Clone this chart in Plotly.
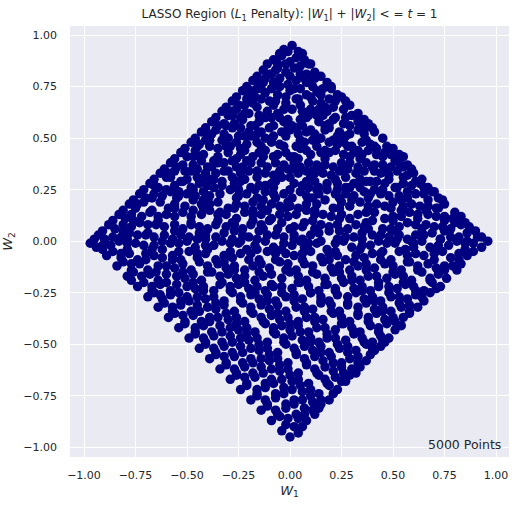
import plotly.graph_objects as go

samples_a = [
    (-0.03,0.93),(0.01,0.95),(0.04,0.92),(-0.05,0.91),
    (-0.08,0.88),(-0.04,0.90),(0.00,0.87),(0.03,0.89),(0.07,0.88),(0.09,0.86),(-0.06,0.86),
    (-0.13,0.83),(-0.10,0.81),(-0.06,0.84),(-0.02,0.82),(0.02,0.84),(0.05,0.81),(0.12,0.82),(0.00,0.80),
    (-0.18,0.78),(-0.15,0.76),(-0.12,0.79),(-0.08,0.77),(-0.01,0.76),(0.03,0.78),(0.08,0.77),(0.12,0.79),(0.18,0.77),
    (-0.23,0.73),(-0.20,0.71),(-0.16,0.74),(-0.12,0.72),(-0.09,0.74),(0.00,0.73),(0.05,0.74),(0.08,0.71),(0.13,0.73),(0.20,0.74),(0.23,0.71),
    (-0.28,0.68),(-0.25,0.66),(-0.21,0.69),(-0.18,0.67),(-0.14,0.69),(-0.07,0.68),(-0.02,0.67),(0.03,0.69),(0.11,0.68),(0.15,0.67),(0.19,0.69),(0.27,0.68),
    (-0.33,0.63),(-0.30,0.61),(-0.26,0.64),(-0.22,0.62),(-0.15,0.61),(-0.11,0.63),(-0.06,0.62),(-0.03,0.64),(0.06,0.63),(0.10,0.64),(0.13,0.61),(0.18,0.63),(0.26,0.64),(0.30,0.61),(0.33,0.62),
    (-0.38,0.58),(-0.35,0.56),(-0.27,0.57),(-0.23,0.59),(-0.19,0.56),(-0.15,0.58),(-0.12,0.60),(-0.03,0.58),(0.01,0.56),(0.05,0.59),(0.14,0.58),(0.17,0.56),(0.21,0.59),(0.26,0.57),(0.34,0.56),(0.38,0.57),
    (-0.43,0.53),(-0.40,0.51),(-0.36,0.54),(-0.32,0.52),(-0.25,0.51),(-0.20,0.53),(-0.16,0.52),(-0.08,0.51),(-0.04,0.53),(0.00,0.54),(0.08,0.53),(0.12,0.52),(0.17,0.54),(0.24,0.53),(0.29,0.52),(0.33,0.54),(0.41,0.53),
    (-0.48,0.48),(-0.45,0.46),(-0.41,0.49),(-0.33,0.49),(-0.29,0.46),(-0.26,0.48),(-0.21,0.47),(-0.14,0.46),(-0.09,0.48),(-0.05,0.47),(0.03,0.46),(0.07,0.48),(0.11,0.49),(0.19,0.48),(0.23,0.47),(0.30,0.46),(0.35,0.48),(0.39,0.47),(0.47,0.46),
    (-0.53,0.43),(-0.50,0.41),(-0.46,0.44),(-0.42,0.42),(-0.35,0.41),(-0.30,0.43),(-0.22,0.44),(-0.18,0.41),(-0.15,0.43),(-0.06,0.42),(-0.02,0.43),(0.02,0.41),(0.10,0.42),(0.15,0.43),(0.22,0.44),(0.26,0.42),(0.31,0.43),(0.38,0.44),(0.42,0.42),(0.46,0.43),(0.53,0.42),
    (-0.58,0.38),(-0.55,0.36),(-0.47,0.37),(-0.43,0.39),(-0.40,0.36),(-0.35,0.38),(-0.28,0.39),(-0.23,0.36),(-0.19,0.38),(-0.11,0.36),(-0.07,0.38),(-0.03,0.37),(0.05,0.36),(0.09,0.38),(0.13,0.37),(0.21,0.36),(0.25,0.38),(0.33,0.36),(0.37,0.38),(0.41,0.37),(0.49,0.36),(0.53,0.38),(0.57,0.37),
    (-0.63,0.33),(-0.60,0.31),(-0.56,0.34),(-0.48,0.34),(-0.45,0.31),(-0.41,0.33),(-0.32,0.34),(-0.28,0.31),(-0.24,0.33),(-0.20,0.34),(-0.12,0.33),(-0.08,0.32),(0.00,0.31),(0.04,0.33),(0.08,0.34),(0.16,0.33),(0.20,0.32),(0.24,0.34),(0.32,0.33),(0.36,0.34),(0.44,0.33),(0.48,0.32),(0.52,0.34),(0.60,0.33),
    (-0.68,0.28),(-0.64,0.26),(-0.56,0.27),(-0.52,0.29),(-0.44,0.28),(-0.40,0.27),(-0.37,0.30),(-0.27,0.28),(-0.24,0.29),(-0.19,0.26),(-0.12,0.27),(-0.07,0.29),(0.02,0.28),(0.06,0.27),(0.14,0.26),(0.18,0.28),(0.22,0.30),(0.31,0.28),(0.34,0.26),(0.39,0.29),(0.46,0.28),(0.51,0.26),(0.59,0.27),(0.63,0.28),(0.67,0.26),
    (-0.73,0.23),(-0.70,0.21),(-0.62,0.22),(-0.58,0.24),(-0.50,0.23),(-0.46,0.22),(-0.42,0.24),(-0.34,0.23),(-0.29,0.25),(-0.21,0.23),(-0.16,0.21),(-0.12,0.24),(-0.03,0.23),(0.01,0.21),(0.05,0.24),(0.14,0.23),(0.18,0.25),(0.27,0.23),(0.31,0.22),(0.36,0.24),(0.44,0.23),(0.48,0.22),(0.57,0.21),(0.61,0.23),(0.69,0.24),(0.72,0.21),
    (-0.78,0.18),(-0.75,0.16),(-0.71,0.19),(-0.63,0.19),(-0.59,0.16),(-0.51,0.17),(-0.47,0.20),(-0.39,0.18),(-0.35,0.19),(-0.30,0.16),(-0.22,0.17),(-0.18,0.19),(-0.09,0.18),(-0.05,0.17),(0.04,0.16),(0.08,0.18),(0.17,0.20),(0.21,0.16),(0.29,0.17),(0.34,0.19),(0.42,0.18),(0.46,0.17),(0.50,0.19),(0.59,0.18),(0.63,0.17),(0.71,0.16),(0.75,0.18),
    (-0.83,0.13),(-0.80,0.11),(-0.72,0.12),(-0.68,0.14),(-0.60,0.13),(-0.56,0.12),(-0.52,0.14),(-0.43,0.13),(-0.39,0.15),(-0.31,0.13),(-0.26,0.11),(-0.22,0.14),(-0.14,0.13),(-0.09,0.11),(-0.01,0.12),(0.03,0.13),(0.08,0.15),(0.16,0.13),(0.20,0.12),(0.29,0.11),(0.33,0.13),(0.41,0.14),(0.46,0.11),(0.54,0.12),(0.58,0.14),(0.67,0.13),(0.71,0.12),(0.79,0.11),(0.83,0.12),
    (-0.88,0.08),(-0.85,0.06),(-0.77,0.07),(-0.73,0.09),(-0.65,0.08),(-0.61,0.07),(-0.52,0.06),(-0.48,0.08),(-0.40,0.06),(-0.36,0.08),(-0.31,0.07),(-0.23,0.06),(-0.19,0.08),(-0.10,0.10),(-0.06,0.06),(0.02,0.07),(0.07,0.09),(0.15,0.08),(0.19,0.07),(0.28,0.06),(0.32,0.08),(0.40,0.10),(0.45,0.06),(0.53,0.07),(0.57,0.09),(0.66,0.08),(0.70,0.07),(0.78,0.06),(0.83,0.08),(0.87,0.07),
    (-0.93,0.03),(-0.90,0.01),(-0.82,0.02),(-0.78,0.04),(-0.70,0.03),(-0.66,0.02),(-0.57,0.01),(-0.53,0.03),(-0.45,0.01),(-0.41,0.03),(-0.32,0.04),(-0.28,0.01),(-0.20,0.02),(-0.15,0.05),(-0.07,0.03),(-0.03,0.02),(0.06,0.01),(0.10,0.03),(0.19,0.05),(0.23,0.01),(0.31,0.02),(0.35,0.04),(0.44,0.03),(0.48,0.02),(0.57,0.01),(0.61,0.03),(0.69,0.04),(0.73,0.01),(0.82,0.02),(0.86,0.04),(0.93,0.02),
    (-0.97,-0.01),(-0.94,-0.03),(-0.87,-0.02),(-0.83,0.00),(-0.75,-0.01),(-0.71,-0.02),(-0.62,-0.04),(-0.58,-0.01),(-0.50,0.00),(-0.46,-0.03),(-0.37,-0.02),(-0.33,0.00),(-0.25,-0.01),(-0.21,-0.04),(-0.12,0.00),(-0.08,-0.03),(0.01,-0.02),(0.05,0.00),(0.13,-0.01),(0.18,-0.04),(0.26,0.00),(0.30,-0.03),(0.39,-0.02),(0.43,0.00),(0.51,-0.01),(0.56,-0.04),(0.64,0.00),(0.68,-0.03),(0.77,-0.02),(0.81,0.00),(0.89,-0.01),(0.96,0.00),
    (-0.89,-0.07),(-0.86,-0.05),(-0.78,-0.06),(-0.74,-0.09),(-0.66,-0.07),(-0.62,-0.08),(-0.53,-0.09),(-0.49,-0.05),(-0.41,-0.06),(-0.36,-0.09),(-0.28,-0.08),(-0.24,-0.06),(-0.15,-0.09),(-0.11,-0.05),(-0.02,-0.06),(0.02,-0.07),(0.10,-0.05),(0.15,-0.08),(0.23,-0.07),(0.27,-0.09),(0.36,-0.08),(0.40,-0.06),(0.49,-0.09),(0.53,-0.05),(0.61,-0.06),(0.65,-0.07),(0.74,-0.05),(0.78,-0.08),(0.86,-0.07),(0.89,-0.05),
    (-0.84,-0.12),(-0.81,-0.10),(-0.73,-0.11),(-0.69,-0.14),(-0.60,-0.12),(-0.56,-0.13),(-0.48,-0.14),(-0.44,-0.10),(-0.35,-0.11),(-0.31,-0.13),(-0.22,-0.14),(-0.18,-0.12),(-0.10,-0.13),(-0.05,-0.10),(0.03,-0.14),(0.07,-0.11),(0.16,-0.10),(0.20,-0.13),(0.29,-0.14),(0.33,-0.12),(0.41,-0.13),(0.46,-0.11),(0.54,-0.14),(0.58,-0.10),(0.67,-0.11),(0.71,-0.13),(0.79,-0.12),(0.83,-0.11),
    (-0.79,-0.17),(-0.76,-0.15),(-0.68,-0.16),(-0.64,-0.19),(-0.55,-0.17),(-0.51,-0.18),(-0.43,-0.19),(-0.38,-0.15),(-0.30,-0.16),(-0.26,-0.18),(-0.17,-0.19),(-0.13,-0.17),(-0.04,-0.18),(0.00,-0.15),(0.08,-0.19),(0.13,-0.16),(0.21,-0.15),(0.25,-0.18),(0.34,-0.19),(0.38,-0.17),(0.47,-0.18),(0.51,-0.16),(0.59,-0.19),(0.64,-0.15),(0.72,-0.16),(0.76,-0.18),
    (-0.74,-0.22),(-0.71,-0.20),(-0.63,-0.21),(-0.58,-0.24),(-0.50,-0.22),(-0.46,-0.23),(-0.37,-0.24),(-0.33,-0.20),(-0.25,-0.21),(-0.20,-0.23),(-0.12,-0.24),(-0.08,-0.22),(0.01,-0.23),(0.05,-0.20),(0.14,-0.24),(0.18,-0.21),(0.26,-0.20),(0.31,-0.23),(0.39,-0.24),(0.43,-0.22),(0.52,-0.23),(0.56,-0.21),(0.65,-0.24),(0.69,-0.20),(0.73,-0.22),
    (-0.69,-0.27),(-0.66,-0.25),(-0.58,-0.26),(-0.53,-0.29),(-0.45,-0.27),(-0.41,-0.28),(-0.32,-0.29),(-0.28,-0.25),(-0.19,-0.26),(-0.15,-0.28),(-0.07,-0.29),(-0.02,-0.27),(0.06,-0.28),(0.10,-0.25),(0.19,-0.29),(0.23,-0.26),(0.32,-0.25),(0.36,-0.28),(0.44,-0.29),(0.49,-0.27),(0.57,-0.28),(0.61,-0.26),(0.68,-0.25),
    (-0.64,-0.32),(-0.61,-0.30),(-0.53,-0.31),(-0.48,-0.34),(-0.40,-0.32),(-0.36,-0.33),(-0.27,-0.34),(-0.23,-0.30),(-0.14,-0.31),(-0.10,-0.33),(-0.02,-0.34),(0.03,-0.32),(0.11,-0.33),(0.15,-0.30),(0.24,-0.34),(0.28,-0.31),(0.37,-0.30),(0.41,-0.33),(0.49,-0.34),(0.54,-0.32),(0.62,-0.32),
    (-0.59,-0.37),(-0.56,-0.35),(-0.47,-0.36),(-0.43,-0.39),(-0.35,-0.37),(-0.30,-0.38),(-0.22,-0.39),(-0.18,-0.35),(-0.09,-0.36),(-0.05,-0.38),(0.04,-0.39),(0.08,-0.37),(0.16,-0.38),(0.21,-0.35),(0.29,-0.39),(0.33,-0.36),(0.42,-0.35),(0.46,-0.38),(0.55,-0.37),(0.58,-0.35),
    (-0.54,-0.42),(-0.51,-0.40),(-0.42,-0.41),(-0.38,-0.44),(-0.29,-0.42),(-0.25,-0.43),(-0.17,-0.44),(-0.12,-0.40),(-0.04,-0.41),(0.00,-0.43),(0.09,-0.44),(0.13,-0.42),(0.22,-0.43),(0.26,-0.40),(0.34,-0.44),(0.39,-0.41),(0.47,-0.40),(0.51,-0.43),(0.54,-0.41),
    (-0.49,-0.47),(-0.46,-0.45),(-0.37,-0.46),(-0.33,-0.49),(-0.24,-0.47),(-0.20,-0.48),(-0.11,-0.49),(-0.07,-0.45),(0.01,-0.46),(0.06,-0.48),(0.14,-0.49),(0.18,-0.47),(0.27,-0.48),(0.31,-0.45),(0.40,-0.49),(0.44,-0.46),(0.48,-0.47),
    (-0.44,-0.52),(-0.41,-0.50),(-0.32,-0.51),(-0.28,-0.54),(-0.19,-0.52),(-0.15,-0.53),(-0.06,-0.54),(-0.02,-0.50),(0.07,-0.51),(0.11,-0.53),(0.19,-0.54),(0.24,-0.52),(0.32,-0.53),(0.37,-0.50),(0.44,-0.51),
    (-0.39,-0.57),(-0.36,-0.55),(-0.27,-0.56),(-0.23,-0.59),(-0.14,-0.57),(-0.10,-0.58),(-0.01,-0.59),(0.03,-0.55),(0.12,-0.56),(0.16,-0.58),(0.25,-0.59),(0.29,-0.57),(0.37,-0.58),(0.39,-0.55),
    (-0.34,-0.62),(-0.31,-0.60),(-0.22,-0.61),(-0.18,-0.64),(-0.09,-0.62),(-0.05,-0.63),(0.04,-0.64),(0.08,-0.60),(0.17,-0.61),(0.21,-0.63),(0.30,-0.62),(0.34,-0.61),
    (-0.29,-0.67),(-0.26,-0.65),(-0.17,-0.66),(-0.12,-0.69),(-0.04,-0.67),(0.01,-0.68),(0.09,-0.69),(0.14,-0.65),(0.22,-0.66),(0.27,-0.68),(0.29,-0.65),
    (-0.24,-0.72),(-0.21,-0.70),(-0.12,-0.71),(-0.07,-0.74),(0.01,-0.72),(0.06,-0.73),(0.14,-0.74),(0.19,-0.70),(0.23,-0.72),
    (-0.19,-0.77),(-0.16,-0.75),(-0.07,-0.76),(-0.02,-0.79),(0.06,-0.77),(0.11,-0.78),(0.19,-0.77),
    (-0.14,-0.82),(-0.11,-0.80),(-0.02,-0.81),(0.03,-0.84),(0.11,-0.82),(0.14,-0.81),
    (-0.09,-0.87),(-0.05,-0.85),(0.04,-0.86),(0.08,-0.87),(0.02,-0.90),
    (-0.04,-0.92),(0.00,-0.95),(0.04,-0.93),
]

samples_b = [
    (-0.05,0.90),(0.06,0.91),(-0.01,0.92),
    (-0.11,0.86),(-0.02,0.86),(0.05,0.85),(0.10,0.86),
    (-0.16,0.80),(-0.09,0.81),(-0.05,0.79),(0.08,0.81),(0.15,0.80),(0.10,0.78),
    (-0.21,0.75),(-0.14,0.74),(-0.05,0.75),(0.02,0.74),(0.11,0.75),(0.16,0.74),(0.20,0.75),
    (-0.26,0.70),(-0.17,0.70),(-0.06,0.71),(-0.02,0.70),(0.10,0.70),(0.15,0.71),(0.25,0.70),
    (-0.31,0.65),(-0.22,0.66),(-0.16,0.65),(-0.08,0.66),(0.01,0.64),(0.05,0.66),(0.14,0.64),(0.21,0.65),(0.29,0.66),
    (-0.36,0.60),(-0.28,0.61),(-0.24,0.60),(-0.09,0.60),(-0.01,0.59),(0.08,0.60),(0.16,0.61),(0.22,0.60),(0.32,0.61),(0.36,0.59),
    (-0.41,0.55),(-0.31,0.56),(-0.24,0.55),(-0.17,0.56),(-0.10,0.55),(-0.01,0.56),(0.03,0.55),(0.10,0.54),(0.19,0.55),(0.29,0.56),(0.36,0.54),(0.40,0.55),
    (-0.46,0.50),(-0.39,0.49),(-0.30,0.50),(-0.19,0.51),(-0.12,0.50),(-0.02,0.51),(0.05,0.49),(0.15,0.50),(0.21,0.49),(0.27,0.51),(0.37,0.49),(0.45,0.50),
    (-0.51,0.45),(-0.39,0.46),(-0.35,0.45),(-0.24,0.45),(-0.12,0.44),(-0.03,0.46),(0.05,0.45),(0.13,0.46),(0.17,0.44),(0.28,0.46),(0.33,0.44),(0.41,0.46),(0.50,0.45),
    (-0.56,0.40),(-0.44,0.41),(-0.37,0.39),(-0.26,0.40),(-0.21,0.39),(-0.13,0.41),(0.00,0.41),(0.04,0.40),(0.17,0.40),(0.29,0.41),(0.34,0.40),(0.45,0.41),(0.51,0.39),(0.55,0.41),
    (-0.61,0.35),(-0.51,0.34),(-0.45,0.35),(-0.38,0.36),(-0.30,0.34),(-0.26,0.36),(-0.16,0.34),(-0.05,0.34),(0.02,0.35),(0.11,0.34),(0.15,0.35),(0.28,0.35),(0.40,0.36),(0.47,0.35),(0.55,0.36),(0.59,0.35),
    (-0.66,0.30),(-0.58,0.31),(-0.50,0.30),(-0.39,0.30),(-0.33,0.29),(-0.22,0.30),(-0.16,0.31),(-0.04,0.31),(0.10,0.31),(0.12,0.29),(0.27,0.31),(0.34,0.30),(0.42,0.29),(0.55,0.31),(0.64,0.30),
    (-0.71,0.25),(-0.60,0.25),(-0.54,0.24),(-0.47,0.25),(-0.37,0.26),(-0.25,0.25),(-0.17,0.25),(-0.08,0.26),(0.09,0.26),(0.23,0.25),(0.29,0.26),(0.41,0.25),(0.52,0.26),(0.57,0.24),(0.65,0.26),(0.70,0.24),
    (-0.76,0.20),(-0.67,0.21),(-0.55,0.21),(-0.42,0.20),(-0.26,0.21),(-0.13,0.20),(-0.07,0.21),(-0.01,0.19),(0.11,0.21),(0.24,0.21),(0.30,0.20),(0.38,0.21),(0.54,0.20),(0.67,0.20),(0.74,0.20),
    (-0.81,0.15),(-0.67,0.15),(-0.56,0.16),(-0.47,0.15),(-0.42,0.16),(-0.34,0.14),(-0.27,0.16),(-0.18,0.15),(-0.11,0.15),(-0.02,0.16),(0.12,0.15),(0.24,0.16),(0.38,0.15),(0.49,0.16),(0.54,0.15),(0.66,0.15),(0.72,0.16),(0.80,0.14),
    (-0.86,0.10),(-0.76,0.10),(-0.64,0.10),(-0.48,0.09),(-0.35,0.10),(-0.28,0.09),(-0.18,0.10),(-0.04,0.09),(0.11,0.10),(0.24,0.11),(0.37,0.09),(0.50,0.10),(0.62,0.11),(0.75,0.10),(0.85,0.09),
    (-0.91,0.05),(-0.81,0.05),(-0.69,0.04),(-0.56,0.05),(-0.44,0.04),(-0.27,0.05),(-0.13,0.06),(0.00,0.06),(0.12,0.06),(0.24,0.05),(0.38,0.06),(0.50,0.05),(0.64,0.06),(0.75,0.05),(0.90,0.05),
    (-0.95,0.01),(-0.79,0.01),(-0.62,0.00),(-0.41,0.01),(-0.24,0.00),(-0.16,0.01),(0.02,0.01),(0.15,0.00),(0.35,0.01),(0.52,0.01),(0.59,0.00),(0.73,0.01),(0.86,0.00),(0.91,0.02),
    (-0.91,-0.04),(-0.79,-0.04),(-0.67,-0.04),(-0.54,-0.05),(-0.40,-0.04),(-0.29,-0.05),(-0.16,-0.04),(-0.04,-0.04),(0.07,-0.03),(0.22,-0.05),(0.34,-0.04),(0.45,-0.05),(0.60,-0.03),(0.72,-0.04),(0.85,-0.04),
    (-0.82,-0.08),(-0.70,-0.09),(-0.57,-0.09),(-0.45,-0.08),(-0.32,-0.10),(-0.20,-0.09),(-0.07,-0.09),(0.06,-0.09),(0.19,-0.09),(0.31,-0.10),(0.44,-0.09),(0.57,-0.10),(0.70,-0.09),(0.82,-0.09),
    (-0.77,-0.14),(-0.65,-0.15),(-0.52,-0.15),(-0.40,-0.15),(-0.27,-0.14),(-0.15,-0.15),(-0.02,-0.14),(0.11,-0.15),(0.24,-0.15),(0.37,-0.14),(0.50,-0.15),(0.62,-0.14),(0.75,-0.14),(0.81,-0.14),
    (-0.77,-0.19),(-0.60,-0.20),(-0.47,-0.20),(-0.34,-0.21),(-0.22,-0.20),(-0.09,-0.21),(0.04,-0.20),(0.17,-0.21),(0.30,-0.19),(0.43,-0.20),(0.55,-0.20),(0.68,-0.19),
    (-0.67,-0.24),(-0.54,-0.25),(-0.42,-0.24),(-0.29,-0.24),(-0.17,-0.25),(-0.04,-0.25),(0.10,-0.25),(0.22,-0.24),(0.35,-0.24),(0.48,-0.25),(0.61,-0.24),(0.71,-0.23),
    (-0.62,-0.28),(-0.49,-0.29),(-0.36,-0.30),(-0.24,-0.29),(-0.11,-0.29),(0.02,-0.29),(0.15,-0.29),(0.28,-0.30),(0.41,-0.29),(0.53,-0.30),(0.65,-0.29),
    (-0.57,-0.34),(-0.44,-0.34),(-0.31,-0.35),(-0.19,-0.34),(-0.06,-0.35),(0.07,-0.34),(0.20,-0.34),(0.33,-0.35),(0.45,-0.34),(0.58,-0.34),
    (-0.51,-0.39),(-0.39,-0.39),(-0.26,-0.40),(-0.13,-0.39),(0.00,-0.40),(0.12,-0.39),(0.25,-0.40),(0.38,-0.39),(0.51,-0.39),
    (-0.46,-0.44),(-0.33,-0.44),(-0.21,-0.45),(-0.08,-0.44),(0.05,-0.44),(0.18,-0.45),(0.31,-0.44),(0.43,-0.44),
    (-0.41,-0.49),(-0.28,-0.49),(-0.15,-0.50),(-0.03,-0.49),(0.10,-0.49),(0.23,-0.50),(0.36,-0.49),(0.46,-0.49),
    (-0.36,-0.54),(-0.23,-0.54),(-0.10,-0.55),(0.03,-0.54),(0.15,-0.54),(0.28,-0.54),(0.41,-0.53),
    (-0.31,-0.59),(-0.18,-0.59),(-0.05,-0.60),(0.08,-0.59),(0.21,-0.59),(0.33,-0.59),
    (-0.26,-0.64),(-0.13,-0.64),(0.00,-0.65),(0.13,-0.64),(0.26,-0.64),(0.32,-0.64),
    (-0.21,-0.69),(-0.08,-0.69),(0.05,-0.70),(0.18,-0.69),(0.25,-0.68),
    (-0.16,-0.74),(-0.03,-0.74),(0.10,-0.75),(0.21,-0.74),
    (-0.11,-0.79),(0.02,-0.79),(0.15,-0.79),
    (-0.06,-0.84),(0.07,-0.84),(0.12,-0.84),
    (-0.02,-0.89),(0.06,-0.90),
]

samples_c = [
    (-0.07,0.83),(0.07,0.79),(-0.13,0.77),(0.14,0.72),(-0.19,0.73),(0.04,0.69),(-0.10,0.68),(0.22,0.68),
    (-0.28,0.63),(0.17,0.65),(-0.20,0.62),(0.09,0.61),(-0.05,0.60),(0.27,0.60),(-0.32,0.57),(0.19,0.57),
    (-0.08,0.56),(0.06,0.56),(-0.28,0.55),(0.33,0.58),(-0.14,0.53),(0.23,0.51),(-0.38,0.52),(0.14,0.50),
    (0.04,0.52),(-0.22,0.51),(0.36,0.52),
    (-0.44,0.47),(-0.16,0.48),(0.26,0.48),(0.42,0.45),(-0.31,0.46),(0.08,0.44),(-0.47,0.41),(-0.08,0.41),
    (0.19,0.43),(0.35,0.42),(-0.24,0.42),(0.49,0.42),(-0.52,0.37),(-0.32,0.38),(-0.14,0.38),(0.02,0.38),
    (0.17,0.37),(0.29,0.38),(0.45,0.37),(-0.58,0.33),(-0.36,0.33),(-0.01,0.35),(0.12,0.33),(0.25,0.35),
    (0.41,0.34),(0.57,0.32),(-0.53,0.29),(-0.43,0.30),(-0.26,0.29),(-0.09,0.28),(0.08,0.29),(0.23,0.28),
    (0.37,0.29),(0.48,0.30),(0.61,0.29),(-0.66,0.27),(-0.48,0.26),(-0.33,0.27),(-0.15,0.27),(0.00,0.25),
    (0.13,0.25),(0.27,0.26),(0.45,0.25),(0.55,0.28),(-0.66,0.23),(-0.54,0.22),(-0.39,0.22),(-0.25,0.22),
    (-0.08,0.23),(0.08,0.22),(0.22,0.23),(0.39,0.23),(0.53,0.22),(0.65,0.23),
    (-0.74,0.18),(-0.56,0.18),(-0.43,0.18),(-0.26,0.18),(-0.14,0.17),(0.00,0.17),(0.13,0.18),(0.25,0.19),
    (0.38,0.17),(0.55,0.17),(0.67,0.17),(-0.77,0.13),(-0.64,0.12),(-0.48,0.12),(-0.35,0.13),(-0.18,0.13),
    (-0.05,0.13),(0.12,0.13),(0.25,0.13),(0.37,0.14),(0.50,0.12),(0.62,0.13),(0.75,0.12),(-0.81,0.08),
    (-0.69,0.08),(-0.56,0.08),(-0.44,0.07),(-0.27,0.08),(-0.14,0.08),(0.06,0.07),(0.23,0.08),(0.36,0.07),
    (0.49,0.06),(0.61,0.08),(0.74,0.07),(0.80,0.09),(-0.86,0.02),(-0.74,0.03),(-0.61,0.03),(-0.49,0.02),
    (-0.36,0.02),(-0.23,0.03),(-0.11,0.03),(0.02,0.03),(0.14,0.04),(0.27,0.02),(0.40,0.03),(0.53,0.03),
    (0.65,0.03),(0.78,0.02),(-0.91,-0.02),(-0.79,-0.01),(-0.66,-0.02),(-0.54,-0.01),(-0.41,-0.02),(-0.29,-0.01),
    (-0.17,-0.02),(-0.03,-0.01),(0.09,-0.01),(0.22,-0.01),(0.35,-0.02),(0.47,-0.01),(0.60,-0.01),(0.72,-0.02),
    (0.85,-0.01),(0.93,-0.03),(-0.82,-0.06),(-0.70,-0.06),(-0.57,-0.07),(-0.45,-0.06),(-0.32,-0.07),(-0.19,-0.06),
    (-0.07,-0.06),(0.06,-0.06),(0.19,-0.06),(0.32,-0.07),(0.44,-0.06),(0.57,-0.07),(0.70,-0.06),(0.82,-0.06),
    (-0.77,-0.11),(-0.64,-0.12),(-0.52,-0.11),(-0.40,-0.12),(-0.27,-0.12),(-0.14,-0.11),(-0.01,-0.11),(0.11,-0.12),
    (0.24,-0.12),(0.37,-0.11),(0.50,-0.12),(0.62,-0.12),(0.75,-0.12),(-0.72,-0.17),(-0.60,-0.16),(-0.47,-0.16),
    (-0.34,-0.17),(-0.22,-0.17),(-0.09,-0.16),(0.04,-0.17),(0.17,-0.18),(0.30,-0.17),(0.42,-0.17),(0.55,-0.17),
    (0.68,-0.18),
    (-0.67,-0.22),(-0.55,-0.21),(-0.42,-0.22),(-0.29,-0.22),(-0.16,-0.22),(-0.04,-0.22),(0.09,-0.22),(0.22,-0.23),
    (0.35,-0.22),(0.48,-0.22),(0.60,-0.22),(-0.63,-0.26),(-0.50,-0.27),(-0.37,-0.27),(-0.24,-0.27),(-0.11,-0.26),
    (0.02,-0.26),(0.15,-0.27),(0.28,-0.27),(0.40,-0.27),(0.53,-0.27),(0.64,-0.27),(-0.57,-0.32),(-0.45,-0.31),
    (-0.32,-0.31),(-0.19,-0.32),(-0.06,-0.31),(0.07,-0.32),(0.20,-0.31),(0.33,-0.32),(0.45,-0.32),(0.58,-0.31),
    (-0.52,-0.36),(-0.39,-0.37),(-0.26,-0.37),(-0.14,-0.37),(-0.01,-0.37),(0.12,-0.37),(0.25,-0.37),(0.38,-0.37),
    (0.50,-0.37),(-0.46,-0.42),(-0.34,-0.41),(-0.21,-0.42),(-0.08,-0.42),(0.04,-0.41),(0.17,-0.42),(0.30,-0.42),
    (0.43,-0.42),(-0.42,-0.47),(-0.29,-0.46),(-0.16,-0.47),(-0.03,-0.47),(0.10,-0.47),(0.22,-0.47),(0.35,-0.47),
    (0.45,-0.48),(-0.37,-0.52),(-0.24,-0.51),(-0.11,-0.52),(0.02,-0.52),(0.15,-0.51),(0.28,-0.51),(0.40,-0.52),
    (-0.32,-0.56),(-0.19,-0.57),(-0.06,-0.57),(0.07,-0.57),(0.20,-0.56),(0.33,-0.56),
    (-0.27,-0.62),(-0.14,-0.61),(-0.01,-0.62),(0.12,-0.62),(0.25,-0.61),(-0.22,-0.66),(-0.09,-0.67),(0.04,-0.67),
    (0.17,-0.67),(-0.16,-0.72),(-0.03,-0.71),(0.10,-0.72),(-0.12,-0.77),(0.02,-0.77),(0.15,-0.77),(-0.07,-0.82),
    (0.07,-0.81),(-0.01,-0.86),
]

samples = samples_a + samples_b + samples_c
W1 = [p[0] for p in samples]
W2 = [p[1] for p in samples]

tick_vals = [-1.0, -0.75, -0.5, -0.25, 0.0, 0.25, 0.5, 0.75, 1.0]
tick_text = ["\u22121.00", "\u22120.75", "\u22120.50", "\u22120.25", "0.00", "0.25", "0.50", "0.75", "1.00"]
count_label = "5000 Points"

TXT = "#262626"
FONT = "DejaVu Sans"

fig = go.Figure()
fig.add_trace(go.Scatter(
    x=W1, y=W2, mode="markers",
    marker=dict(color="#000080", size=9.5, line=dict(width=0)),
    showlegend=False, hoverinfo="skip",
))

axis_common = dict(
    tickvals=tick_vals, ticktext=tick_text,
    showgrid=True, gridcolor="white", gridwidth=1,
    zeroline=False, showline=False, ticks="", automargin=False,
    tickfont=dict(family=FONT, size=11, color=TXT),
)
fig.update_layout(
    width=529, height=505,
    margin=dict(l=70, r=20, t=26, b=48),
    paper_bgcolor="white", plot_bgcolor="#EAEAF2",
    font=dict(family=FONT, color=TXT),
    title=dict(
        text="LASSO Region (<i>L</i><sub>1</sub> Penalty): |<i>W</i><sub>1</sub>| + |<i>W</i><sub>2</sub>| &lt; = <i>t</i> = 1",
        x=0.5, xref="paper", xanchor="center",
        y=1 - 14 / 505, yref="container", yanchor="middle",
        font=dict(family=FONT, size=12, color=TXT),
        automargin=False,
    ),
    xaxis=dict(range=[-1.068, 1.063], ticklabelstandoff=10,
               title=dict(text="<i>W</i><sub>1</sub>", font=dict(family=FONT, size=13, color=TXT), standoff=4),
               **axis_common),
    yaxis=dict(range=[-1.047, 1.044], ticklabelstandoff=12,
               title=dict(text="<i>W</i><sub>2</sub>", font=dict(family=FONT, size=13, color=TXT), standoff=9),
               **axis_common),
    annotations=[dict(
        text=count_label, x=1, y=0, xref="paper", yref="paper",
        xanchor="right", yanchor="bottom", xshift=-6, yshift=3, showarrow=False,
        font=dict(family=FONT, size=12.5, color=TXT),
    )],
)

fig.write_html(
    "out.html",
    config={"displayModeBar": False, "staticPlot": True},
    post_script="document.body.style.margin='0px';document.body.style.overflow='hidden';",
)
